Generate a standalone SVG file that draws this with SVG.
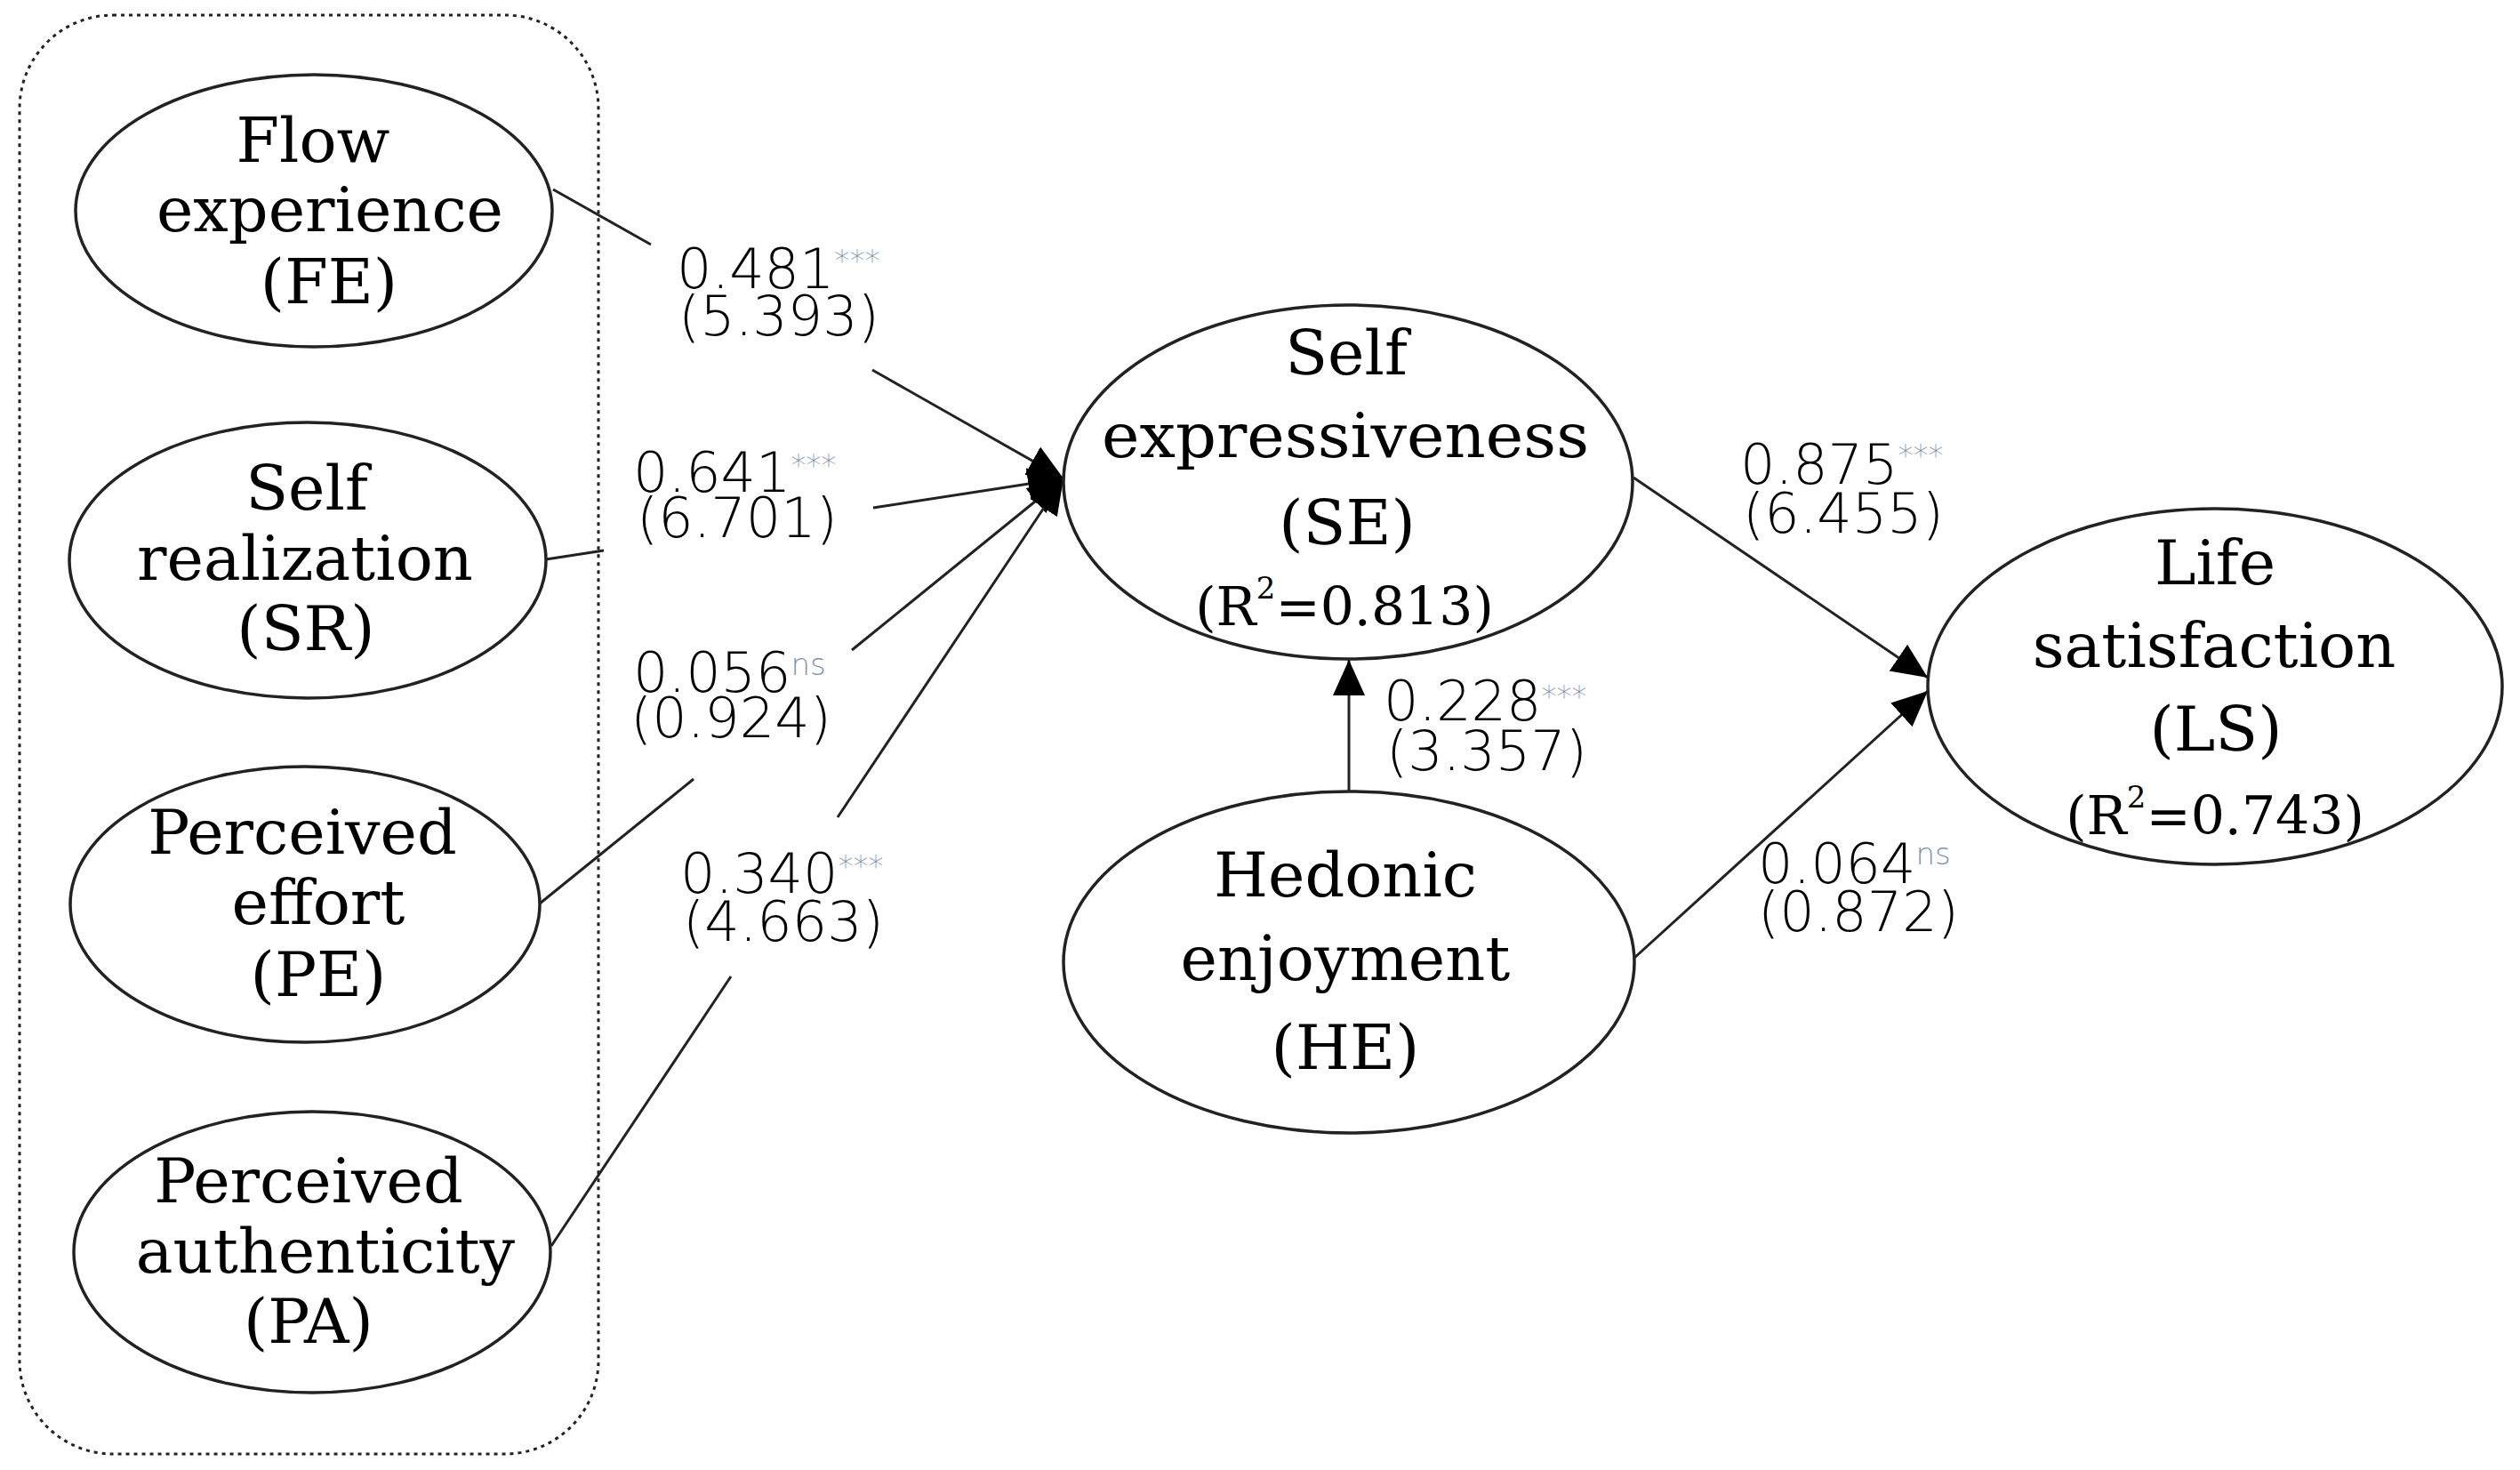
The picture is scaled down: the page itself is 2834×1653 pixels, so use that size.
<svg xmlns="http://www.w3.org/2000/svg" width="2834" height="1653" viewBox="0 0 2834 1653">
<style>
.node ellipse{fill:#fff;stroke:#222;stroke-width:3.5}
.lbl{font-family:"DejaVu Serif","Liberation Serif",serif;font-size:70px;fill:#000;text-anchor:middle}
.r2{font-family:"DejaVu Serif","Liberation Serif",serif;font-size:60px;fill:#000;text-anchor:middle}
.sup{font-size:34px}
.num{font-family:"DejaVu Sans","Liberation Sans",sans-serif;font-weight:200;font-size:62px;fill:#000}
.sig{font-size:34px;fill:#7f93b0}
.conn line{stroke:#222;stroke-width:3}
.arr{marker-end:url(#ah)}
</style>
<defs>
<marker id="ah" viewBox="0 0 40 40" refX="40" refY="20" markerWidth="40" markerHeight="40" markerUnits="userSpaceOnUse" orient="auto">
<path d="M0,2 L40,20 L0,38 Z" fill="#000"/>
</marker>
</defs>
<rect width="2834" height="1653" fill="#fff"/>
<rect id="group-box" x="22" y="17" width="651" height="1618" rx="105" ry="105" fill="none" stroke="#222" stroke-width="3" stroke-dasharray="4 5"/>

<g class="conn" id="connectors">
<line x1="622" y1="213" x2="732" y2="275"/>
<line class="arr" x1="981" y1="416" x2="1196" y2="538"/>
<line x1="614" y1="629" x2="679" y2="619"/>
<line class="arr" x1="982" y1="571" x2="1196" y2="538"/>
<line x1="607" y1="1016" x2="780" y2="876"/>
<line class="arr" x1="958" y1="731" x2="1196" y2="538"/>
<line x1="620" y1="1401" x2="822" y2="1098"/>
<line class="arr" x1="942" y1="919" x2="1196" y2="538"/>
<line class="arr" x1="1837" y1="537" x2="2168" y2="762"/>
<line class="arr" x1="1837" y1="1078" x2="2168" y2="777"/>
<line class="arr" x1="1517" y1="890" x2="1517" y2="742"/>
</g>

<g id="node-FE" class="node">
<ellipse cx="353" cy="237" rx="268" ry="153"/>
<text class="lbl" x="352" y="182">Flow</text>
<text class="lbl" x="371" y="260">experience</text>
<text class="lbl" x="370" y="341">(FE)</text>
</g>
<g id="node-SR" class="node">
<ellipse cx="346" cy="630" rx="268" ry="155"/>
<text class="lbl" x="345" y="573">Self</text>
<text class="lbl" x="343" y="652">realization</text>
<text class="lbl" x="344" y="731">(SR)</text>
</g>
<g id="node-PE" class="node">
<ellipse cx="343" cy="1017" rx="264" ry="155"/>
<text class="lbl" x="340" y="960">Perceived</text>
<text class="lbl" x="358" y="1039">effort</text>
<text class="lbl" x="358" y="1120">(PE)</text>
</g>
<g id="node-PA" class="node">
<ellipse cx="351" cy="1408" rx="268" ry="158"/>
<text class="lbl" x="347" y="1352">Perceived</text>
<text class="lbl" x="366" y="1431">authenticity</text>
<text class="lbl" x="347" y="1510">(PA)</text>
</g>
<g id="node-SE" class="node">
<ellipse cx="1516" cy="542" rx="320" ry="199"/>
<text class="lbl" x="1514" y="421">Self</text>
<text class="lbl" x="1513" y="514" textLength="548" lengthAdjust="spacingAndGlyphs">expressiveness</text>
<text class="lbl" x="1515" y="612">(SE)</text>
<text class="r2" x="1512" y="703">(R<tspan class="sup" dy="-30">2</tspan><tspan dy="30">=0.813)</tspan></text>
</g>
<g id="node-HE" class="node">
<ellipse cx="1517" cy="1082" rx="321" ry="192"/>
<text class="lbl" x="1513" y="1008">Hedonic</text>
<text class="lbl" x="1513" y="1102">enjoyment</text>
<text class="lbl" x="1513" y="1202">(HE)</text>
</g>
<g id="node-LS" class="node">
<ellipse cx="2491" cy="772" rx="323" ry="200"/>
<text class="lbl" x="2491" y="657">Life</text>
<text class="lbl" x="2490" y="750">satisfaction</text>
<text class="lbl" x="2492" y="844">(LS)</text>
<text class="r2" x="2491" y="938">(R<tspan class="sup" dy="-30">2</tspan><tspan dy="30">=0.743)</tspan></text>
</g>

<g id="edge-labels">
<text class="num" x="761" y="324">0.481<tspan class="sig" y="305">***</tspan></text>
<text class="num" x="763" y="377">(5.393)</text>
<text class="num" x="712" y="553">0.641<tspan class="sig" y="535">***</tspan></text>
<text class="num" x="716" y="604">(6.701)</text>
<text class="num" x="712" y="778">0.056<tspan class="sig" y="759">ns</tspan></text>
<text class="num" x="709" y="829">(0.924)</text>
<text class="num" x="765" y="1004">0.340<tspan class="sig" y="986">***</tspan></text>
<text class="num" x="768" y="1058">(4.663)</text>
<text class="num" x="1957" y="544">0.875<tspan class="sig" y="524">***</tspan></text>
<text class="num" x="1960" y="599">(6.455)</text>
<text class="num" x="1977" y="993">0.064<tspan class="sig" y="972">ns</tspan></text>
<text class="num" x="1977" y="1047">(0.872)</text>
<text class="num" x="1556" y="810">0.228<tspan class="sig" y="795">***</tspan></text>
<text class="num" x="1559" y="866">(3.357)</text>
</g>
</svg>
